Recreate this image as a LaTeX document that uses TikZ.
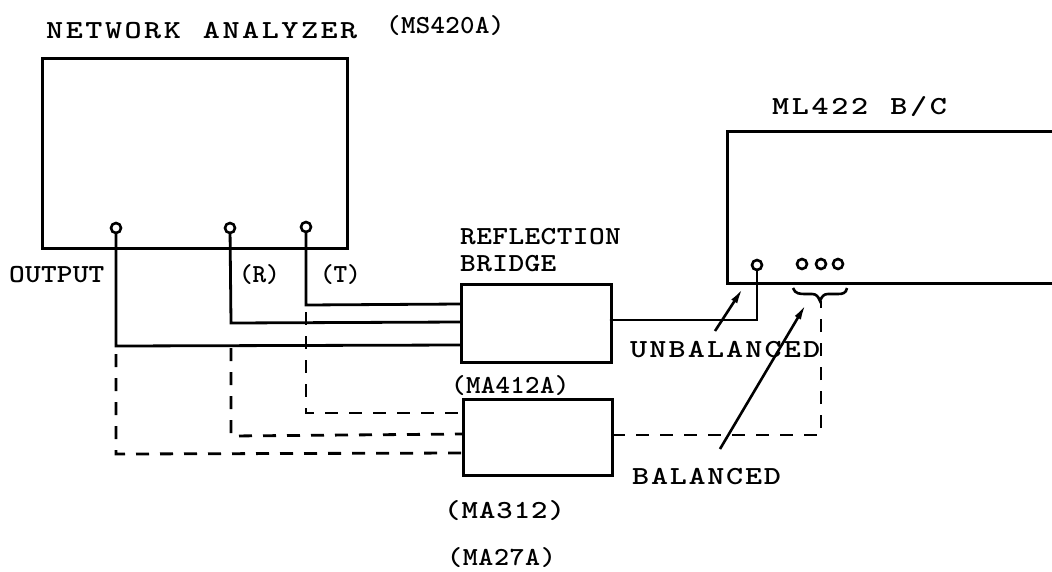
\documentclass[tikz,border=0pt]{standalone}
\usepackage{fontspec}
\usepackage{graphicx}
\usetikzlibrary{arrows.meta}
\makeatletter
\newcommand{\pitched}[3]{\@tfor\pchar:=#3\do{\makebox[#1][l]{\scalebox{#2}[1]{\pchar}}}}
\makeatother
\tikzset{
  wire/.style={line width=2.8pt,line cap=round,line join=miter},
  dashwire/.style={line width=2.8pt,dash pattern=on 13pt off 11pt},
  box/.style={draw,line width=3pt,rectangle,inner sep=0pt,minimum width=#1},
  port/.style={draw,circle,line width=2.6pt,minimum size=10pt,inner sep=0pt,fill=white},
  lab/.style={anchor=base west,inner sep=0pt,font=\fontsize{26pt}{28pt}\ttfamily\bfseries},
  ptr/.style={line width=2.6pt,-{Latex[length=16pt,width=7pt]}}
}
\begin{document}
\begin{tikzpicture}[x=1pt,y=-1pt]
\useasboundingbox (0,0) rectangle (1052,571);
% boxes
\node[box=305pt,minimum height=190pt] (na) at (194.5,153) {};
\node[box=150pt,minimum height=78pt] (rb) at (536,323) {};
\node[box=149pt,minimum height=76pt] (bx) at (537.5,437) {};
\coordinate (mlbr) at (1052,283);
\coordinate (mltr) at (1052,131);
\draw[line width=3pt] (mltr) -- (727,131) -- (727,283) -- (mlbr);
% junctions
\coordinate (jt) at (306,305);
\coordinate (jr) at (231,323);
\coordinate (jo) at (116,346);
\coordinate (bt) at (461,304);
\coordinate (br) at (461,322);
\coordinate (bo) at (461,345);
\coordinate (dt) at (463,413);
\coordinate (dr) at (463,434);
\coordinate (do) at (463,453);
\coordinate (ru) at (611,320);
\coordinate (rd) at (612,435);
\coordinate (brtip) at (821,301);
% ports
\node[port] (po) at (116,228) {};
\node[port] (pr) at (230,228) {};
\node[port] (pt) at (306,227) {};
\node[port] (pu) at (757,265) {};
\node[port] (p1) at (802,264) {};
\node[port] (p2) at (821,264) {};
\node[port] (p3) at (838,264) {};
% solid wires
\draw[wire] (pt) -- (jt) -- (bt);
\draw[wire] (pr) -- (jr) -- (br);
\draw[wire] (po) -- (jo) -- (bo);
\draw[wire] (ru) -- (757,320) -- (pu);
% dashed wires
\draw[dashwire] (306,312) -- (306,413) -- (dt);
\draw[dashwire] (231,348) -- (231,436) -- (dr);
\draw[dashwire] (116,354) -- (116,454) -- (do);
\draw[dashwire] (rd) -- (821,435) -- (brtip);
% brace
\draw[line width=2.6pt] (793,288) .. controls (795,294) and (800,294) .. (806,294) -- (812,294) .. controls (816,294) and (818,296) .. (820,301) .. controls (822,296) and (824,294) .. (828,294) -- (838,294) .. controls (843,294) and (846,293) .. (847,288);
% pointers
\coordinate (ua) at (715,331);
\coordinate (ub) at (743,288);
\coordinate (ba) at (720,449);
\coordinate (bb) at (806,304);
\draw[ptr] (ua) -- (ub);
\draw[ptr] (ba) -- (bb);
% labels
\node[lab] (t1) at (46,38) {\pitched{19.6pt}{1.25}{NETWORK~ANALYZER}};
\node[lab] (t2) at (386,33) {\pitched{14.8pt}{1.06}{(MS420A)}};
\node[lab] (t3) at (772,114) {\pitched{19.7pt}{1.25}{ML422~B/C}};
\node[lab] (t4) at (460,244) {\pitched{16.1pt}{1.15}{REFLECTION}};
\node[lab] (t5) at (460,271) {\pitched{16.1pt}{1.15}{BRIDGE}};
\node[lab] (t6) at (9,282) {\pitched{15.9pt}{1.15}{OUTPUT}};
\node[lab] (t7) at (239,282) {\pitched{13.5pt}{1}{(R)}};
\node[lab] (t8) at (320,282) {\pitched{13.5pt}{1}{(T)}};
\node[lab] (t9) at (451,393) {\pitched{14.8pt}{1.06}{(MA412A)}};
\node[lab] (t10) at (630,357) {\pitched{19.2pt}{1.25}{UNBALANCED}};
\node[lab] (t11) at (632,484) {\pitched{18.8pt}{1.25}{BALANCED}};
\node[lab] (t12) at (444,518) {\pitched{17.4pt}{1.2}{(MA312)}};
\node[lab] (t13) at (447,565) {\pitched{15.6pt}{1.1}{(MA27A)}};
\end{tikzpicture}
\end{document}
